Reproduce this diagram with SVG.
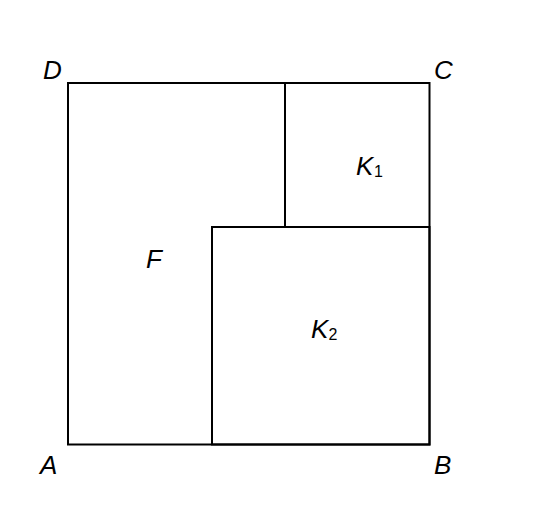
<svg xmlns="http://www.w3.org/2000/svg" width="555" height="505" viewBox="0 0 555 505">
<style>
.ln{fill:none;stroke:#000;stroke-width:2;stroke-linecap:square}
.t{font-family:"Liberation Sans",Arial,sans-serif;font-style:italic;font-size:26px;fill:#000}
.s{font-family:"Liberation Sans",Arial,sans-serif;font-style:normal;font-size:16px;fill:#000}
</style>
<rect width="555" height="505" fill="#fff"/>
<g id="outer-square"><rect class="ln" x="68" y="83" width="361.5" height="361.5"/></g>
<g id="K2"><rect class="ln" x="212" y="227" width="217.5" height="217.5"/></g>
<g id="K1"><line class="ln" x1="285" y1="83" x2="285" y2="227"/></g>
<g id="labels">
<text class="t" x="43" y="79">D</text>
<text class="t" x="434" y="79">C</text>
<text class="t" x="40" y="474">A</text>
<text class="t" x="434" y="474">B</text>
<text class="t" x="146" y="268">F</text>
<text class="t" x="356" y="175">K</text><text class="s" x="374" y="176.5">1</text>
<text class="t" x="311" y="338">K</text><text class="s" x="328.5" y="340">2</text>
</g>
</svg>
